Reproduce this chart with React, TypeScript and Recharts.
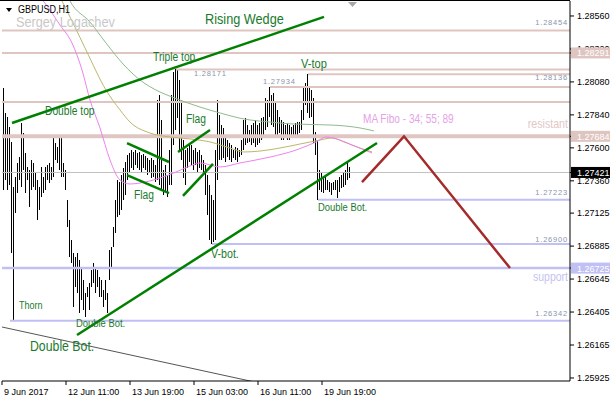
import React from "react";
import {
  ComposedChart,
  Bar,
  Line,
  XAxis,
  YAxis,
  ReferenceLine,
  ReferenceDot,
} from "recharts";

// ---- GBPUSD H1 bars (index = hourly bar number from 9 Jun 2017) ----
const barHigh = [
  1.27621, 1.28036, 1.27854, 1.27825, 1.27752, 1.27643, 1.27315, 1.27388, 1.2749, 1.27533,
  1.27781, 1.27708, 1.27563, 1.27461, 1.27439, 1.27512, 1.2749, 1.27417, 1.27366, 1.27315,
  1.27461, 1.27388, 1.27461, 1.27475, 1.2749, 1.27461, 1.27694, 1.27635, 1.27606, 1.27694,
  1.27672, 1.2749, 1.27439, 1.2722, 1.27075, 1.26929, 1.26835, 1.26806, 1.26835, 1.26784,
  1.26733, 1.26638, 1.26544, 1.26587, 1.26616, 1.26711, 1.26762, 1.26733, 1.26711, 1.2666,
  1.26638, 1.26565, 1.26638, 1.26544, 1.26857, 1.26878, 1.27024, 1.2722, 1.27366, 1.27351,
  1.27402, 1.27453, 1.27497, 1.27548, 1.27563, 1.27584, 1.2757, 1.27584, 1.27563, 1.2757,
  1.27548, 1.27555, 1.27541, 1.27526, 1.27512, 1.27526, 1.27512, 1.27475, 1.27948, 1.27985,
  1.27803, 1.27439, 1.27475, 1.27402, 1.27584, 1.27985, 1.28152, 1.28171, 1.28167, 1.28094,
  1.27948, 1.27657, 1.27584, 1.27599, 1.27621, 1.27621, 1.27584, 1.27599, 1.2757, 1.27584,
  1.27548, 1.27512, 1.27475, 1.27402, 1.2733, 1.27257, 1.2722, 1.27584, 1.27948, 1.27839,
  1.27766, 1.27745, 1.27694, 1.27657, 1.27635, 1.27621, 1.27584, 1.27606, 1.27599, 1.27584,
  1.27657, 1.27803, 1.27817, 1.27766, 1.2773, 1.27766, 1.27781, 1.27803, 1.27766, 1.27781,
  1.27817, 1.27825, 1.27963, 1.27948, 1.28043, 1.27985, 1.27999, 1.27927, 1.27876, 1.27825,
  1.27803, 1.27788, 1.27766, 1.27781, 1.27766, 1.27752, 1.27766, 1.27781, 1.27788, 1.27788,
  1.27876, 1.28043, 1.28072, 1.28136, 1.28036, 1.28021, 1.27963, 1.27715, 1.27657, 1.27439,
  1.27417, 1.27388, 1.27402, 1.27366, 1.27351, 1.27344, 1.27351, 1.27366, 1.27366, 1.27388,
  1.27402, 1.27424, 1.27439, 1.27497, 1.27461,
];

const barLow = [
  1.2585, 1.27293, 1.27366, 1.27293, 1.2733, 1.26835, 1.26342, 1.27126, 1.27271, 1.27366,
  1.27315, 1.27439, 1.27271, 1.27366, 1.2717, 1.27293, 1.27315, 1.27293, 1.27075, 1.27148,
  1.27242, 1.27271, 1.27293, 1.27366, 1.27344, 1.27366, 1.27388, 1.27512, 1.2749, 1.27439,
  1.27388, 1.27388, 1.27293, 1.27024, 1.26806, 1.26762, 1.26442, 1.26587, 1.26544, 1.26398,
  1.26493, 1.2642, 1.26369, 1.26514, 1.2642, 1.26587, 1.26616, 1.26544, 1.26587, 1.26514,
  1.26514, 1.26442, 1.26493, 1.26398, 1.26638, 1.26733, 1.26878, 1.2698, 1.27097, 1.27111,
  1.27148, 1.2722, 1.27257, 1.27366, 1.27417, 1.27453, 1.27439, 1.27475, 1.27453, 1.27439,
  1.27424, 1.27453, 1.27439, 1.27402, 1.27417, 1.27381, 1.27388, 1.27351, 1.27366, 1.2733,
  1.27293, 1.27257, 1.27279, 1.27242, 1.2733, 1.2733, 1.27621, 1.2773, 1.27817, 1.27584,
  1.27512, 1.27381, 1.2733, 1.27453, 1.27497, 1.27475, 1.27439, 1.27475, 1.27424, 1.27453,
  1.27439, 1.27402, 1.27257, 1.27111, 1.26929, 1.269, 1.26915, 1.26929, 1.27366, 1.27512,
  1.27512, 1.27526, 1.27497, 1.27533, 1.27512, 1.27497, 1.27526, 1.27512, 1.27497, 1.27533,
  1.27548, 1.27584, 1.27621, 1.27635, 1.27643, 1.27621, 1.27635, 1.27606, 1.27621, 1.27635,
  1.27657, 1.27679, 1.2773, 1.27752, 1.27825, 1.27766, 1.27752, 1.27679, 1.27694, 1.27708,
  1.27657, 1.27657, 1.27679, 1.27657, 1.27657, 1.27679, 1.27672, 1.27679, 1.27694, 1.27708,
  1.2773, 1.27803, 1.27912, 1.27854, 1.27817, 1.27825, 1.27635, 1.27548, 1.27223, 1.27293,
  1.27279, 1.27271, 1.27293, 1.27293, 1.27279, 1.27257, 1.27293, 1.27293, 1.27235, 1.27279,
  1.27308, 1.27315, 1.2733, 1.27366, 1.27381,
];

// ---- time axis ----
const timeTicks = [0, 32, 64, 96, 128, 160];
const timeLabels = ["9 Jun 2017", "12 Jun 11:00", "13 Jun 19:00", "15 Jun 03:00", "16 Jun 11:00", "19 Jun 19:00"];

// ---- price axis ----
const priceTicks = [1.2856, 1.2832, 1.2808, 1.2784, 1.276, 1.2736, 1.27125, 1.26885, 1.26645, 1.26405, 1.26165, 1.25925];
const priceDomain: [number, number] = [1.25903, 1.28669];
const barSlots = 284;

// ---- MA Fibo 34 / 55 / 89 (bar index, value) ----
const ma34: [number, number][] = [
  [19, 1.28698], [21, 1.28662], [29, 1.28494], [35, 1.28363], [40, 1.28167], [44, 1.27948],
  [49, 1.27745], [54, 1.27512], [59, 1.27366], [64, 1.27337], [69, 1.27344], [79, 1.27381],
  [87, 1.27424], [94, 1.27468], [99, 1.2749], [109, 1.27461], [119, 1.2749], [134, 1.27533],
  [147, 1.27584], [157, 1.27643], [162, 1.27679], [169, 1.27657], [176, 1.27614], [185, 1.27563],
];
const ma55: [number, number][] = [
  [29, 1.28698], [30, 1.28669], [36, 1.28494], [42, 1.28312], [52, 1.28021], [59, 1.27876],
  [64, 1.27788], [74, 1.27708], [84, 1.27679], [94, 1.27665], [104, 1.27643], [114, 1.27599],
  [121, 1.2757], [129, 1.27577], [139, 1.27599], [149, 1.27628], [159, 1.27657], [165, 1.27672],
  [171, 1.27643], [179, 1.27599], [185, 1.2757],
];
const ma89: [number, number][] = [
  [33, 1.28698], [34, 1.28669], [44, 1.28516], [52, 1.28363], [61, 1.28203], [69, 1.28094],
  [77, 1.28021], [85, 1.2797], [99, 1.27897], [109, 1.27854], [121, 1.2781], [134, 1.27788],
  [145, 1.27774], [165, 1.27766], [179, 1.27745], [186, 1.27723],
];

// ---- horizontal levels: price and first bar ----
const upperLevels = [1.28454, 1.28291, 1.28171, 1.28136, 1.28043, 1.27934];
const upperStarts = [0, 0, 87, 153, 134, 0];
const lowerLevels = [1.27223, 1.269, 1.26342];
const lowerStarts = [158, 105, 4];
const resistant = 1.27684;
const support = 1.26725;
const lastPrice = 1.27421;

// ---- trend lines: [i1, p1, i2, p2] ----
const wedgeLines = [
  [5, 1.27781, 161, 1.28553],
  [37.5, 1.26238, 187.5, 1.27635],
];
const flagLines = [
  [62.5, 1.27635, 83.5, 1.27497],
  [62.5, 1.27402, 83.5, 1.27271],
  [88, 1.2757, 104, 1.2773],
  [90.5, 1.2725, 105.5, 1.27483],
];
const longTrend = [0, 1.26296, 130, 1.25884];
const projection: [number, number][] = [[180, 1.27351], [201, 1.27684], [254, 1.26725]];

const bars = barHigh.map((h, i) => ({ i, range: [barLow[i], h] }));
const toPts = (arr: [number, number][]) => arr.map(([i, v]) => ({ i, v }));

const LABEL_FONT = "'Liberation Sans', Arial, sans-serif";
const AXIS_FONT = "'Liberation Sans', Arial, sans-serif";
const NOTE = "#1a7a2c";
const PRICE_NOTE = "#8a94ad";
const PINK = "#dfc5bf";
const BLUE = "#c0c0f5";
const TREND = "#008000";

// axis price tags drawn as boxes on top of the regular tick labels
const tagValues = [upperLevels[1], resistant, support, lastPrice];
const tagFill = [PINK, PINK, BLUE, "#000"];
const axisTicks = [...priceTicks, ...tagValues];

function HLBar(props: any) {
  const { x, y, width, height } = props;
  if (x == null || y == null || !isFinite(y) || !isFinite(height)) return null;
  const cx = Math.round(x + width / 2) - 0.5;
  return <line x1={cx} x2={cx} y1={y} y2={y + height} stroke="#000" strokeWidth={1} shapeRendering="crispEdges" />;
}

function TimeTick(props: any) {
  const { x, y, payload } = props;
  const k = timeTicks.indexOf(payload.value);
  return (
    <text x={x + 2} y={y + 8} fontSize={9} fontFamily={AXIS_FONT} fill="#000">
      {timeLabels[k]}
    </text>
  );
}

function PriceTick(props: any) {
  const { x, y, payload } = props;
  const v = Number(payload.value);
  const t = tagValues.indexOf(v);
  if (t >= 0) {
    return (
      <g>
        <rect x={x - 6} y={y - 5.5} width={40} height={11} fill={tagFill[t]} />
        <text x={x} y={y + 3.5} fontSize={9} fontFamily={AXIS_FONT} fill="#fff">
          {v.toFixed(5)}
        </text>
      </g>
    );
  }
  return (
    <text x={x} y={y + 3} fontSize={9} fontFamily={AXIS_FONT} fill="#000">
      {v.toFixed(5)}
    </text>
  );
}

const note = (
  key: string,
  i: number,
  p: number,
  text: string,
  size: number,
  color: string,
  anchor: "start" | "end" = "start",
  squeeze = 0.82,
  spacing = 0
) => (
  <ReferenceDot
    key={key}
    x={i}
    y={p}
    r={0}
    shape={(s: any) => (
      <text
        x={0}
        y={0}
        transform={`translate(${s.cx} ${s.cy}) scale(${squeeze} 1)`}
        fontSize={size}
        fill={color}
        textAnchor={anchor}
        fontFamily={LABEL_FONT}
        letterSpacing={spacing}
      >
        {text}
      </text>
    )}
  />
);

const seg = (key: string, l: number[], stroke: string, w: number) => (
  <ReferenceLine
    key={key}
    segment={[{ x: l[0], y: l[1] }, { x: l[2], y: l[3] }]}
    stroke={stroke}
    strokeWidth={w}
    ifOverflow="hidden"
  />
);

export default function App() {
  return (
    <div style={{ position: "absolute", left: 0, top: 0, width: 610, height: 400, background: "#fff" }}>
      <ComposedChart width={610} height={400} data={bars} margin={{ top: 1, right: 0, bottom: 0, left: 2 }}>
        <XAxis
          dataKey="i"
          type="number"
          domain={[0, barSlots]}
          allowDataOverflow
          ticks={timeTicks}
          interval={0}
          tick={<TimeTick />}
          tickSize={4}
          tickMargin={2}
          height={19}
          axisLine={{ stroke: "#000" }}
          tickLine={{ stroke: "#000" }}
        />
        <YAxis
          orientation="right"
          type="number"
          domain={priceDomain}
          allowDataOverflow
          ticks={axisTicks}
          interval={0}
          tick={<PriceTick />}
          tickSize={4}
          tickMargin={3}
          width={40}
          axisLine={{ stroke: "#000" }}
          tickLine={{ stroke: "#000" }}
        />

        {upperLevels.map((p, k) => (
          <ReferenceLine
            key={"u" + k}
            segment={[{ x: upperStarts[k], y: p }, { x: barSlots, y: p }]}
            stroke={PINK}
            strokeWidth={2}
            ifOverflow="hidden"
          />
        ))}
        <ReferenceLine y={resistant} stroke="#e0c6c2" strokeWidth={4} ifOverflow="hidden" />
        {lowerLevels.map((p, k) => (
          <ReferenceLine
            key={"l" + k}
            segment={[{ x: lowerStarts[k], y: p }, { x: barSlots, y: p }]}
            stroke={BLUE}
            strokeWidth={2}
            ifOverflow="hidden"
          />
        ))}
        <ReferenceLine y={support} stroke={BLUE} strokeWidth={2.5} ifOverflow="hidden" />
        <ReferenceLine y={lastPrice} stroke="#c0c0c0" strokeWidth={1} ifOverflow="hidden" />

        {seg("dt", longTrend, "#555", 1)}

        <Bar dataKey="range" shape={<HLBar />} isAnimationActive={false} />

        <Line data={toPts(ma89)} dataKey="v" type="monotone" stroke="#8fbc8f" strokeWidth={1} dot={false} isAnimationActive={false} />
        <Line data={toPts(ma55)} dataKey="v" type="monotone" stroke="#bdb76b" strokeWidth={1} dot={false} isAnimationActive={false} />
        <Line data={toPts(ma34)} dataKey="v" type="monotone" stroke="#ee82ee" strokeWidth={1} dot={false} isAnimationActive={false} />

        {wedgeLines.map((l, k) => seg("w" + k, l, TREND, 2.5))}
        {flagLines.map((l, k) => seg("f" + k, l, TREND, 2.5))}
        <Line data={toPts(projection)} dataKey="v" type="linear" stroke="#a52a2a" strokeWidth={2.5} dot={false} isAnimationActive={false} />

        {note("n1", 101.5, 1.28502, "Rising Wedge", 15.5, NOTE)}
        {note("n2", 75.5, 1.28232, "Triple top", 12.5, NOTE)}
        {note("n3", 21.5, 1.27839, "Double top", 12.5, NOTE)}
        {note("n4", 92, 1.27781, "Flag", 12.5, NOTE)}
        {note("n5", 66, 1.27228, "Flag", 12.5, NOTE)}
        {note("n6", 149.5, 1.28181, "V-top", 13.5, NOTE)}
        {note("n7", 104.5, 1.26795, "V-bot.", 13, NOTE)}
        {note("n8", 158, 1.27141, "Double Bot.", 11.5, NOTE)}
        {note("n9", 37, 1.26296, "Double Bot.", 11.5, NOTE)}
        {note("n10", 14, 1.26121, "Double Bot.", 15, NOTE)}
        {note("n11", 8.5, 1.26427, "Thorn", 11, NOTE)}
        {note("n12", 180.5, 1.27781, "MA Fibo - 34; 55; 89", 12.3, "#e6a2e6")}
        {note("n13", 283, 1.27741, "resistant", 13, "#e2c8c6", "end")}
        {note("n14", 283, 1.26634, "support", 12.8, "#c4c4f2", "end")}
        {note("p1", 283, 1.28494, "1.28454", 7.5, PRICE_NOTE, "end", 1, 0.8)}
        {note("p2", 283, 1.28094, "1.28136", 7.5, PRICE_NOTE, "end", 1, 0.8)}
        {note("p3", 96, 1.28123, "1.28171", 7.5, PRICE_NOTE, "start", 1, 0.8)}
        {note("p4", 130.5, 1.28065, "1.27934", 7.5, PRICE_NOTE, "start", 1, 0.8)}
        {note("p5", 283, 1.27257, "1.27223", 7.5, PRICE_NOTE, "end", 1, 0.8)}
        {note("p6", 283, 1.26915, "1.26900", 7.5, PRICE_NOTE, "end", 1, 0.8)}
        {note("p7", 283, 1.26376, "1.26342", 7.5, PRICE_NOTE, "end", 1, 0.8)}
      </ComposedChart>
      <svg width={610} height={400} style={{ position: "absolute", left: 0, top: 0, pointerEvents: "none" }}>
        <line x1={0} x2={570} y1={0.5} y2={0.5} stroke="#000" strokeWidth={1} />
        <polygon points="6,8 12,8 9,12" fill="#000" />
        <text x={18} y={13} fontSize={11} fontFamily={LABEL_FONT} fill="#000" transform="translate(18 0) scale(0.82 1) translate(-18 0)">
          GBPUSD,H1
        </text>
        <text x={16} y={27} fontSize={15.5} fontFamily={LABEL_FONT} fill="#c8c8c8" transform="translate(16 0) scale(0.82 1) translate(-16 0)">
          Sergey Logachev
        </text>
        <polygon points="348,2 357,2 352.5,7" fill="#a8a8a8" />
      </svg>
    </div>
  );
}
